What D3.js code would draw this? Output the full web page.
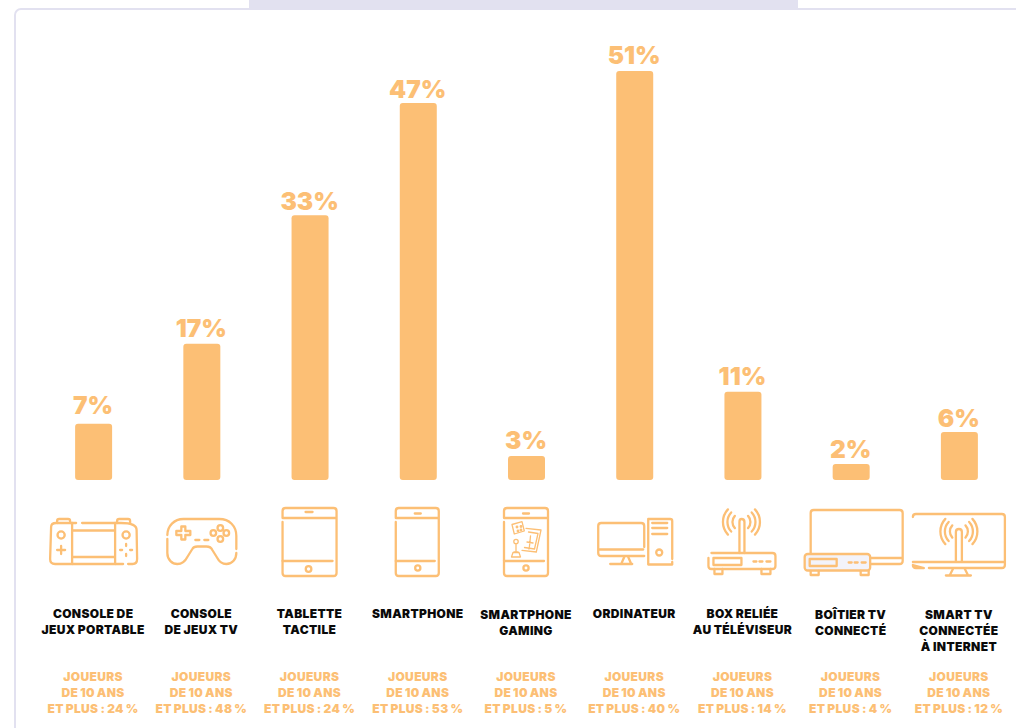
<!DOCTYPE html>
<html lang="fr">
<head>
<meta charset="utf-8">
<title>Supports de jeu</title>
<script src="https://cdn.jsdelivr.net/npm/d3@7/dist/d3.min.js"></script>
<style>
body{margin:0;background:#fff;overflow:hidden}
svg{display:block}
text{font-family:Inter,"Noto Sans",sans-serif;text-anchor:middle}
</style>
</head>
<body>
<div id="chart"></div>
<script>
// share of players per device, 2 age groups
var categories=["console","consoleTv","tablette","smartphone","gaming","ordinateur","box","boitier","smartTv"];
var valuesKids=[7,17,33,47,3,51,11,2,6];
var valuesAll=[24,48,24,53,5,40,14,4,12];
var labelLines=[
["CONSOLE DE","JEUX PORTABLE"],
["CONSOLE","DE JEUX TV"],
["TABLETTE","TACTILE"],
["SMARTPHONE"],
["SMARTPHONE","GAMING"],
["ORDINATEUR"],
["BOX RELIÉE","AU TÉLÉVISEUR"],
["BOÎTIER TV","CONNECTÉ"],
["SMART TV","CONNECTÉE","À INTERNET"]];

var orange="#fcbf75",frame="#e2e1f0";
var w=1016,h=728;

var svg=d3.select("#chart").append("svg").attr("width",w).attr("height",h);

// frame and tab on top
svg.append("rect").attr("x",249).attr("y",0).attr("width",549).attr("height",9).attr("fill",frame);
svg.append("rect").attr("x",15).attr("y",9).attr("width",1100).attr("height",800).attr("rx",6)
.attr("fill","none").attr("stroke",frame).attr("stroke-width",2);

var xScale=d3.scaleBand().domain(categories).range([39.5,1013.5]).padding(0);
var yScale=d3.scaleLinear().domain([0,51]).range([480,71]);
var barW=37;

svg.selectAll("rect.bar").data(categories).enter().append("rect")
.attr("class","bar")
.attr("x",function(d){return xScale(d)+xScale.bandwidth()/2-barW/2;})
.attr("width",barW)
.attr("y",function(d,i){return yScale(valuesKids[i]);})
.attr("height",function(d,i){return yScale(0)-yScale(valuesKids[i]);})
.attr("rx",3)
.attr("fill",orange);

// the value labels do not sit at one distance from their bar
var labelGap={console:10,tablette:5,smartphone:5,boitier:5.5,smartTv:5};
svg.selectAll("text.val").data(categories).enter().append("text")
.attr("class","val")
.attr("x",function(d){return xScale(d)+xScale.bandwidth()/2-.5;})
.attr("y",function(d,i){return yScale(valuesKids[i])-(labelGap[d]||7);})
.attr("font-size",24.5).attr("font-weight",900).attr("fill",orange)
.text(function(d,i){return valuesKids[i]+"%";});

// icons, local x is relative to the band centre
function line(g,d){g.append("path").attr("d",d);}
function dot(g,x,y,r){g.append("circle").attr("cx",x).attr("cy",y).attr("r",r);}
function waves(g,x,y){
[9,14,18.500].forEach(function(r){
var a=0.75,ca=Math.cos(a)*r,sa=Math.sin(a)*r;
line(g,"M"+(x-ca)+" "+(y-sa)+"A"+r+" "+r+" 0 0 0 "+(x-ca)+" "+(y+sa));
line(g,"M"+(x+ca)+" "+(y-sa)+"A"+r+" "+r+" 0 0 1 "+(x+ca)+" "+(y+sa));
});
}
function phone(g,x0,x1){
line(g,"M"+x0+" 522V573Q"+x0+" 576 "+(x0+3)+" 576H"+(x1-3)+"Q"+x1+" 576 "+x1+" 573V511Q"+x1+" 508 "+(x1-3)+" 508H"+(x0+3)+"Q"+x0+" 508 "+x0+" 511V518H"+x1);
line(g,"M"+x0+" 561H"+(x1-4));
}
var icons={
console:function(g){
line(g,"M-28 523H-17M-11 523H28Q43.500 523 43.500 530L44 559Q44 564 39.500 564H35M30 564H-38Q-43 564 -43 559L-42 527Q-42 523 -37 523H-28");
line(g,"M-36 523V521Q-36 519 -34 519H-25Q-23 519 -23 521V523M24 523V521Q24 519 26 519H35Q37 519 37 521V523");
line(g,"M-21 523V564M22 523V564M-21 530.500H22M-21 557H22");
dot(g,-32,535,3.6);dot(g,33,535,3.6);
line(g,"M-36 550H-28M-32 546V554");
line(g,"M33 544V546M33 554V556M27 550H29M37 550H39");
},
consoleTv:function(g){
line(g,"M-34 535C-34 526 -27 519 -18 519H18C28 519 35 526 35 536V549M35 553C35 559 31 564 25 564C21 564 18 562 16 558L11 550C10 547.500 8 546.500 5 546.500H-4C-6 546.500 -8 547 -9 549L-14 557C-16 561 -19 564 -24 564C-29 564 -34 560 -34 553V539");
line(g,"M-20 526.500H-16V531H-11V535H-16V539.500H-20V535H-25V531H-20Z");
dot(g,19,528,2.8);dot(g,12,533,2.8);dot(g,25,533,2.8);dot(g,19,539,2.8);
line(g,"M-6 540H-2M3 540H7");
},
tablette:function(g){
phone(g,-27,27);
line(g,"M-4 512H3");
dot(g,-1,569,2.8);
},
smartphone:function(g){
phone(g,-22,21);
line(g,"M-3 513.500H3");
dot(g,0,568,2.6);
},
gaming:function(g){
phone(g,-22,22);
line(g,"M-3 513.500H3");
dot(g,0,568,2.6);
g.append("g").attr("stroke-width",1.3).call(function(s){
line(s,"M-14 524.500L-4 521.700L-1.700 531L-11.700 534Z");
line(s,"M0 528.300L15 530L10.300 552L-4 550.300");
line(s,"M2.500 532L12 533.500L8.500 549L-1.500 547.500");
line(s,"M4.500 536L3.500 546M1 542L7 543M3.500 546L3 549");
dot(s,-9,527,.8);dot(s,-5,526.500,.8);dot(s,-8,531,.8);dot(s,-5,530,.8);
dot(s,-10,541.500,2.200);
line(s,"M-10 544V552M-12 552H-8M-14.500 557L-13 552.500H-7L-5.500 557Z");
});
},
ordinateur:function(g){
line(g,"M10 547V526Q10 523 7 523H-33Q-36 523 -36 526V553Q-36 556 -33 556H10M-36 549.500H9");
line(g,"M-10 557L-13 564M-6 557L-3 564M-24 564H-2");
line(g,"M38 559V521Q38 519 36 519H14V564.500H38V562");
line(g,"M18 523H33M18 528H33M18 534H33");
dot(g,25,552.500,3);
},
box:function(g){
line(g,"M-3 553V522Q-3 519 -1 519Q2 519 2 522V553");
waves(g,-1,522);
line(g,"M-31 553H30Q33 553 33 556V566Q33 569 30 569H-31Q-34 569 -34 566V558");
line(g,"M-29 558H-1V565H-29Z");
line(g,"M11 561.500H14M17 561.500H20M24 561.500H28");
line(g,"M-28 569V574H-20V569M19 569V574H28V569");
},
boitier:function(g){
line(g,"M-40 554V513Q-40 510 -37 510H49Q52 510 52 513V561Q52 564 49 564H20M20 558H52");
g.append("rect").attr("x",-46).attr("y",554).attr("width",65.500).attr("height",16.500).attr("rx",3).attr("fill","#f3f3fa");
line(g,"M-41 559H-14V566H-41Z");
line(g,"M-2 562.500H1M4 562.500H7M11 562.500H15");
line(g,"M-40 571V575H-32V571M10 571V575H18V571");
},
smartTv:function(g){
line(g,"M-46 517Q-46 514 -43 514H43Q46 514 46 517V565Q46 568 43 568H-30M-35 568H-43Q-46 568 -46 565ZM-46 562H46");
line(g,"M-3 561V532Q-3 529 0 529Q3 529 3 532V561");
waves(g,0,531.500);
line(g,"M-6 569L-9 575M6 569L9 575M-13 575.500H12");
}
};

// these names sit one pixel lower
var lowNames={gaming:1,boitier:1,smartTv:1};

categories.forEach(function(c,i){
var cx=xScale(c)+xScale.bandwidth()/2;
var g=svg.append("g").attr("transform","translate("+(cx-.5)+",0)")
.attr("fill","none").attr("stroke",orange).attr("stroke-width",2.3).attr("stroke-linecap","round").attr("stroke-linejoin","round");
icons[c](g);

// device name
svg.append("g").selectAll("text").data(labelLines[i]).enter().append("text")
.attr("x",cx-.5)
.attr("y",function(d,j){return 618+(lowNames[c]||0)+j*16;})
.attr("font-size",12).attr("font-weight",900).attr("fill","#0a0a0a")
.attr("letter-spacing",.35).attr("word-spacing",-.4)
.text(function(d){return d;});

// share among all players
var sub=["JOUEURS","DE 10 ANS","ET PLUS : "+valuesAll[i]+" %"];
svg.append("g").selectAll("text").data(sub).enter().append("text")
.attr("x",cx-.5)
.attr("y",function(d,j){return 681+j*16;})
.attr("font-size",12).attr("font-weight",900).attr("fill",orange)
.attr("letter-spacing",.35).attr("word-spacing",-.8)
.text(function(d){return d;});
});
</script>
</body>
</html>
